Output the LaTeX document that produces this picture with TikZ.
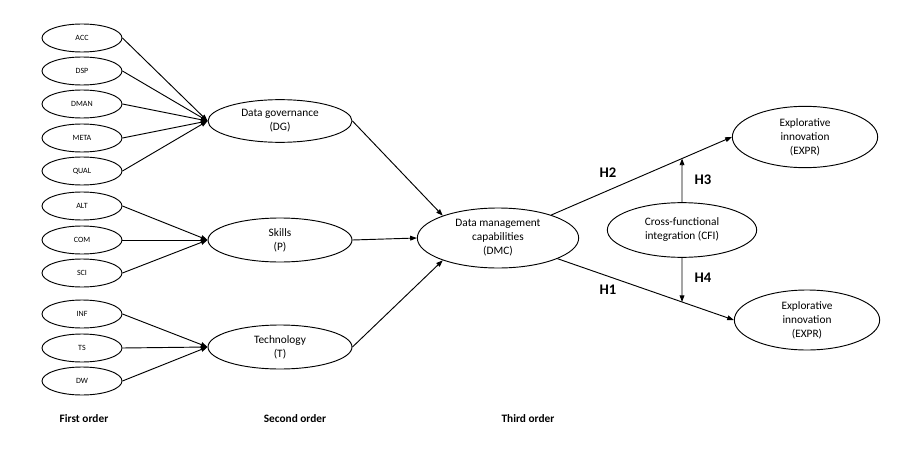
\documentclass[tikz,border=0pt]{standalone}
\usepackage{fontspec}
\setmainfont{Carlito}
\usepackage{tikz}
\usetikzlibrary{arrows.meta, shapes.geometric}

\begin{document}
\begin{tikzpicture}[x=0.75pt,y=-0.75pt,
  item/.style={ellipse,draw,line width=0.7pt,inner sep=0pt,minimum width=60pt,minimum height=21pt,font=\fontsize{6}{7}\selectfont},
  construct/.style={ellipse,draw,line width=0.7pt,inner sep=0pt,align=center,font=\fontsize{8.5}{10.5}\selectfont},
  link/.style={line width=0.7pt,-{Triangle[length=5pt,width=3.6pt]}},
  hyp/.style={font=\fontsize{11}{13}\selectfont\bfseries},
  level/.style={font=\fontsize{8.5}{10}\selectfont\bfseries}]
\useasboundingbox (0,0) rectangle (912,449);
% --- first order items ---
\node[item] (acc) at (82,38) {ACC};
\node[item] (dsp) at (82,71) {DSP};
\node[item] (dman) at (82,104) {DMAN};
\node[item] (meta) at (82,138) {META};
\node[item] (qual) at (82,171) {QUAL};
\node[item] (alt) at (82,206) {ALT};
\node[item] (com) at (82,240) {COM};
\node[item] (sci) at (82,273) {SCI};
\node[item] (inf) at (82,314) {INF};
\node[item] (ts) at (82,348) {TS};
\node[item] (dw) at (82,381) {DW};
% --- second order constructs ---
\node[construct,minimum width=108pt,minimum height=32pt] (dg) at (280,121) {Data governance\\(DG)};
\node[construct,minimum width=108pt,minimum height=33pt] (skills) at (280,240) {Skills\\(P)};
\node[construct,minimum width=108pt,minimum height=33pt] (tech) at (280,347) {Technology\\(T)};
% --- third order and outcomes ---
\node[construct,minimum width=121pt,minimum height=45pt] (dmc) at (498,238) {Data management\\capabilities\\(DMC)};
\node[construct,minimum width=112pt,minimum height=41pt] (cfi) at (682,230) {Cross-functional\\integration (CFI)};
\node[construct,minimum width=109pt,minimum height=46pt] (expr1) at (805,137) {Explorative\\innovation\\(EXPR)};
\node[construct,minimum width=109pt,minimum height=45pt] (expr2) at (807,320) {Explorative\\innovation\\(EXPR)};
% items into second order
\draw[link] (acc.east) -- (dg.west);
\draw[link] (dsp.east) -- (dg.west);
\draw[link] (dman.east) -- (dg.west);
\draw[link] (meta.east) -- (dg.west);
\draw[link] (qual.east) -- (dg.west);
\draw[link] (alt.east) -- (skills.west);
\draw[link] (com.east) -- (skills.west);
\draw[link] (sci.east) -- (skills.west);
\draw[link] (inf.east) -- (tech.west);
\draw[link] (ts.east) -- (tech.west);
\draw[link] (dw.east) -- (tech.west);
% second order into third order
\draw[link] (dg.east) -- (dmc.158);
\draw[link] (skills.east) -- (dmc.west);
\draw[link] (tech.east) -- (dmc.202);
% hypotheses
\draw[link] (dmc) -- (expr1.west);
\draw[link] (dmc) -- (expr2.west);
\coordinate (h3end) at (intersection of cfi.north--cfi.south and dmc.center--expr1.west);
\coordinate (h4end) at (intersection of cfi.north--cfi.south and dmc.center--expr2.west);
\draw[link] (cfi.north) -- (h3end);
\draw[link] (cfi.south) -- (h4end);
\node[hyp] (h2) at (608,173) {H2};
\node[hyp] (h3) at (703,180) {H3};
\node[hyp] (h1) at (608,290) {H1};
\node[hyp] (h4) at (703,278) {H4};
% --- order labels ---
\node[level] (first) at (84,419) {First order};
\node[level] (second) at (295,419) {Second order};
\node[level] (third) at (528,419) {Third order};
\end{tikzpicture}
\end{document}
